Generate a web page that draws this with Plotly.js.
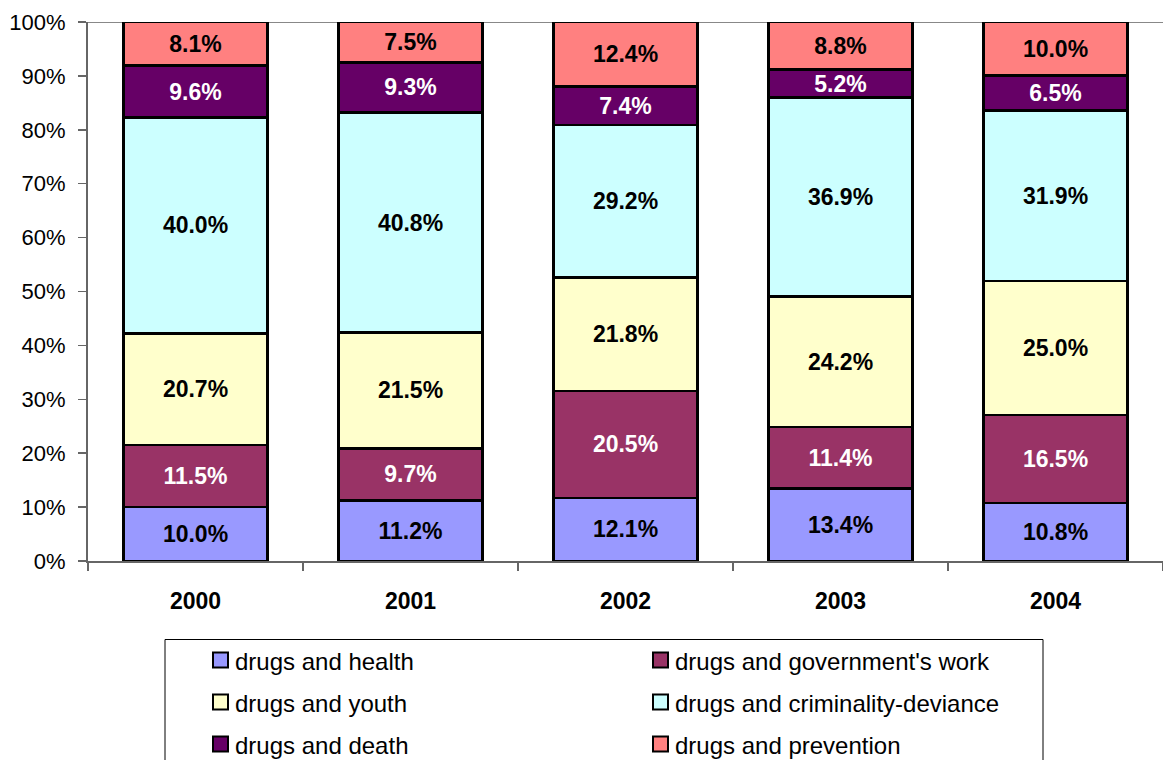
<!DOCTYPE html>
<html>
<head>
<meta charset="utf-8">
<script src="https://cdn.plot.ly/plotly-3.0.1.min.js"></script>
<style>
html,body{margin:0;padding:0;background:#fff;}
#chart{width:1163px;height:760px;}
</style>
</head>
<body>
<div id="chart"></div>
<script>
const years = ['2000', '2001', '2002', '2003', '2004'];
const seriesNames = ['drugs and health', "drugs and government's work", 'drugs and youth', 'drugs and criminality-deviance', 'drugs and death', 'drugs and prevention'];
const health = [10.0, 11.2, 12.1, 13.4, 10.8];
const government = [11.5, 9.7, 20.5, 11.4, 16.5];
const youth = [20.7, 21.5, 21.8, 24.2, 25.0];
const criminality = [40.0, 40.8, 29.2, 36.9, 31.9];
const death = [9.6, 9.3, 7.4, 5.2, 6.5];
const prevention = [8.1, 7.5, 12.4, 8.8, 10.0];
const yTicks = [0, 10, 20, 30, 40, 50, 60, 70, 80, 90, 100];

const seriesValues = [health, government, youth, criminality, death, prevention];
const fills = ['#9999FF', '#993366', '#FFFFCC', '#CCFFFF', '#660066', '#FF8080'];
const labelColors = ['#000', '#fff', '#000', '#000', '#fff', '#000'];
const FONT = '"Liberation Sans", Arial, sans-serif';

const traces = seriesValues.map((vals, i) => ({
  type: 'bar',
  name: seriesNames[i],
  x: years,
  y: vals,
  text: vals.map(v => v.toFixed(1) + '%'),
  texttemplate: '%{text}',
  textposition: 'inside',
  insidetextanchor: 'middle',
  textangle: 0,
  constraintext: 'none',
  insidetextfont: {family: FONT, size: 23, color: labelColors[i], weight: 'bold'},
  marker: {color: fills[i], line: {color: '#000', width: 2.5}},
  hoverinfo: 'skip',
  showlegend: false
}));

// plot-area geometry (pixels) for placing the custom legend box
const M = {l: 88, r: 0, t: 22, b: 199};
const W = 1163, H = 760;
const pw = W - M.l - M.r, ph = H - M.t - M.b;
const px = x => (x - M.l) / pw;
const py = y => (H - M.b - y) / ph;

const shapes = [{type: 'line', xref: 'paper', yref: 'y', x0: 0, x1: 1, y0: 100, y1: 100,
  line: {color: '#888', width: 2}, layer: 'below'}];
// legend frame
shapes.push({type: 'rect', xref: 'paper', yref: 'paper', x0: px(165), x1: px(1043), y0: py(639.5), y1: py(790),
  line: {color: '#000', width: 1}, fillcolor: 'rgba(0,0,0,0)'});
const annotations = [];
const colX = [213, 653];
const rowY = [660, 702, 744];
seriesNames.forEach((name, i) => {
  const cx = colX[i % 2], cy = rowY[Math.floor(i / 2)];
  shapes.push({type: 'rect', xref: 'paper', yref: 'paper',
    x0: px(cx), x1: px(cx + 15), y0: py(cy - 7.5), y1: py(cy + 7.5),
    fillcolor: fills[i], line: {color: '#000', width: 2}});
  annotations.push({xref: 'paper', yref: 'paper', x: px(cx + 20), y: py(cy + 1),
    xanchor: 'left', yanchor: 'middle', showarrow: false, text: name,
    font: {family: FONT, size: 24, color: '#000'}});
});

const layout = {
  width: W, height: H,
  margin: M,
  paper_bgcolor: '#fff', plot_bgcolor: '#fff',
  barmode: 'stack', barnorm: 'percent', bargap: 0.33,
  font: {family: FONT, color: '#000'},
  showlegend: false,
  xaxis: {
    type: 'category', tickson: 'boundaries', ticks: 'outside', ticklen: 8,
    tickcolor: '#666', tickwidth: 1.5, showline: true, linecolor: '#666', linewidth: 2,
    tickfont: {family: FONT, size: 23, weight: 'bold', color: '#000'},
    ticklabelstandoff: 18, showgrid: false, zeroline: false, fixedrange: true
  },
  yaxis: {
    range: [0, 100], tickvals: yTicks, ticktext: yTicks.map(t => t + '%'),
    ticks: 'outside', ticklen: 8, tickcolor: '#666', tickwidth: 1.5,
    showline: true, linecolor: '#666', linewidth: 2, showgrid: false, zeroline: false,
    tickfont: {family: FONT, size: 22, color: '#000'}, ticklabelstandoff: 8, fixedrange: true
  },
  shapes: shapes,
  annotations: annotations
};

Plotly.newPlot('chart', traces, layout, {displayModeBar: false, staticPlot: true});
</script>
</body>
</html>
